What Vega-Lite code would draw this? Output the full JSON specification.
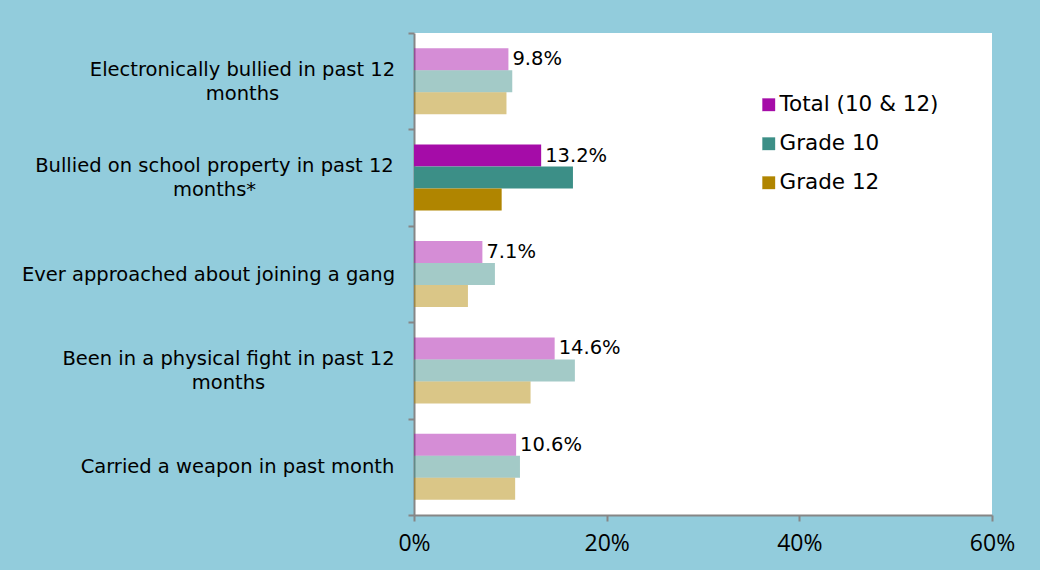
{
  "$schema": "https://vega.github.io/schema/vega-lite/v6.json",
  "autosize": {"type": "none"},
  "width": 578,
  "height": 482,
  "padding": {"left": 414, "top": 33, "right": 48, "bottom": 55},
  "background": "#92CCDC",
  "config": {
    "view": {"fill": "#FFFFFF", "stroke": null},
    "font": "DejaVu Sans"
  },
  "data": {
    "values": [
      {"category": "Electronically bullied in past 12 months", "series": "Total (10 & 12)", "value": 0.098},
      {"category": "Electronically bullied in past 12 months", "series": "Grade 10", "value": 0.102},
      {"category": "Electronically bullied in past 12 months", "series": "Grade 12", "value": 0.096},
      {"category": "Bullied on school property in past 12 months*", "series": "Total (10 & 12)", "value": 0.132},
      {"category": "Bullied on school property in past 12 months*", "series": "Grade 10", "value": 0.165},
      {"category": "Bullied on school property in past 12 months*", "series": "Grade 12", "value": 0.091},
      {"category": "Ever approached about joining a gang", "series": "Total (10 & 12)", "value": 0.071},
      {"category": "Ever approached about joining a gang", "series": "Grade 10", "value": 0.084},
      {"category": "Ever approached about joining a gang", "series": "Grade 12", "value": 0.056},
      {"category": "Been in a physical fight in past 12 months", "series": "Total (10 & 12)", "value": 0.146},
      {"category": "Been in a physical fight in past 12 months", "series": "Grade 10", "value": 0.167},
      {"category": "Been in a physical fight in past 12 months", "series": "Grade 12", "value": 0.121},
      {"category": "Carried a weapon in past month", "series": "Total (10 & 12)", "value": 0.106},
      {"category": "Carried a weapon in past month", "series": "Grade 10", "value": 0.110},
      {"category": "Carried a weapon in past month", "series": "Grade 12", "value": 0.105}
    ]
  },
  "encoding": {
    "y": {
      "field": "category",
      "type": "nominal",
      "sort": null,
      "scale": {"paddingInner": 0, "paddingOuter": 0},
      "axis": {
        "title": null,
        "domainColor": "#868686",
        "domainWidth": 2,
        "tickColor": "#868686",
        "tickWidth": 2,
        "tickSize": 6,
        "tickBand": "extent",
        "labelAlign": "center",
        "labelBaseline": "middle",
        "labelPadding": {
          "condition": [
            {"test": "datum.value === 'Electronically bullied in past 12 months'", "value": 166},
            {"test": "datum.value === 'Bullied on school property in past 12 months*'", "value": 194},
            {"test": "datum.value === 'Ever approached about joining a gang'", "value": 200},
            {"test": "datum.value === 'Been in a physical fight in past 12 months'", "value": 180}
          ],
          "value": 171
        },
        "labelOffset": {
          "condition": [
            {"test": "datum.value === 'Electronically bullied in past 12 months'", "value": -12},
            {"test": "datum.value === 'Bullied on school property in past 12 months*'", "value": -12},
            {"test": "datum.value === 'Been in a physical fight in past 12 months'", "value": -12}
          ],
          "value": 0
        },
        "labelLimit": 420,
        "labelFontSize": 19.5,
        "labelColor": "#000000",
        "labelFont": "DejaVu Sans",
        "labelLineHeight": 24,
        "labelExpr": "datum.value == 'Electronically bullied in past 12 months' ? ['Electronically bullied in past 12', 'months'] : datum.value == 'Bullied on school property in past 12 months*' ? ['Bullied on school property in past 12', 'months*'] : datum.value == 'Been in a physical fight in past 12 months' ? ['Been in a physical fight in past 12', 'months'] : datum.value"
      }
    },
    "x": {
      "field": "value",
      "type": "quantitative",
      "scale": {"domain": [0, 0.6], "nice": false},
      "axis": {
        "title": null,
        "orient": "bottom",
        "format": ".0%",
        "values": [0, 0.2, 0.4, 0.6],
        "grid": false,
        "labelFlush": false,
        "domainColor": "#868686",
        "domainWidth": 2,
        "tickColor": "#868686",
        "tickWidth": 2,
        "tickSize": 6,
        "labelFontSize": 23,
        "labelFont": "Open Sans",
        "labelColor": "#000000",
        "labelPadding": 11
      }
    },
    "yOffset": {
      "field": "series",
      "type": "nominal",
      "sort": ["Total (10 & 12)", "Grade 10", "Grade 12"],
      "scale": {"paddingInner": 0, "paddingOuter": 0.69}
    }
  },
  "layer": [
    {
      "mark": {"type": "bar"},
      "encoding": {
        "color": {
          "field": "series",
          "type": "nominal",
          "sort": ["Total (10 & 12)", "Grade 10", "Grade 12"],
          "scale": {
            "domain": ["Total (10 & 12)", "Grade 10", "Grade 12"],
            "range": ["#A50CA8", "#3C8F87", "#B08500"]
          },
          "legend": {
            "title": null,
            "orient": "none",
            "legendX": 344,
            "legendY": 61,
            "symbolType": "square",
            "symbolSize": 165,
            "symbolStrokeWidth": 0,
            "symbolOpacity": 1,
            "labelFontSize": 21.5,
            "labelFont": "DejaVu Sans",
            "labelColor": "#000000",
            "labelOffset": 0,
            "rowPadding": 16
          }
        },
        "opacity": {
          "condition": {"test": "datum.category === 'Bullied on school property in past 12 months*'", "value": 1},
          "value": 0.47
        }
      }
    },
    {
      "transform": [{"filter": "datum.series === 'Total (10 & 12)'"}],
      "mark": {"type": "text", "align": "left", "baseline": "middle", "dx": 4, "fontSize": 19.5, "color": "#000000"},
      "encoding": {
        "text": {"field": "value", "type": "quantitative", "format": ".1%"}
      }
    }
  ]
}
